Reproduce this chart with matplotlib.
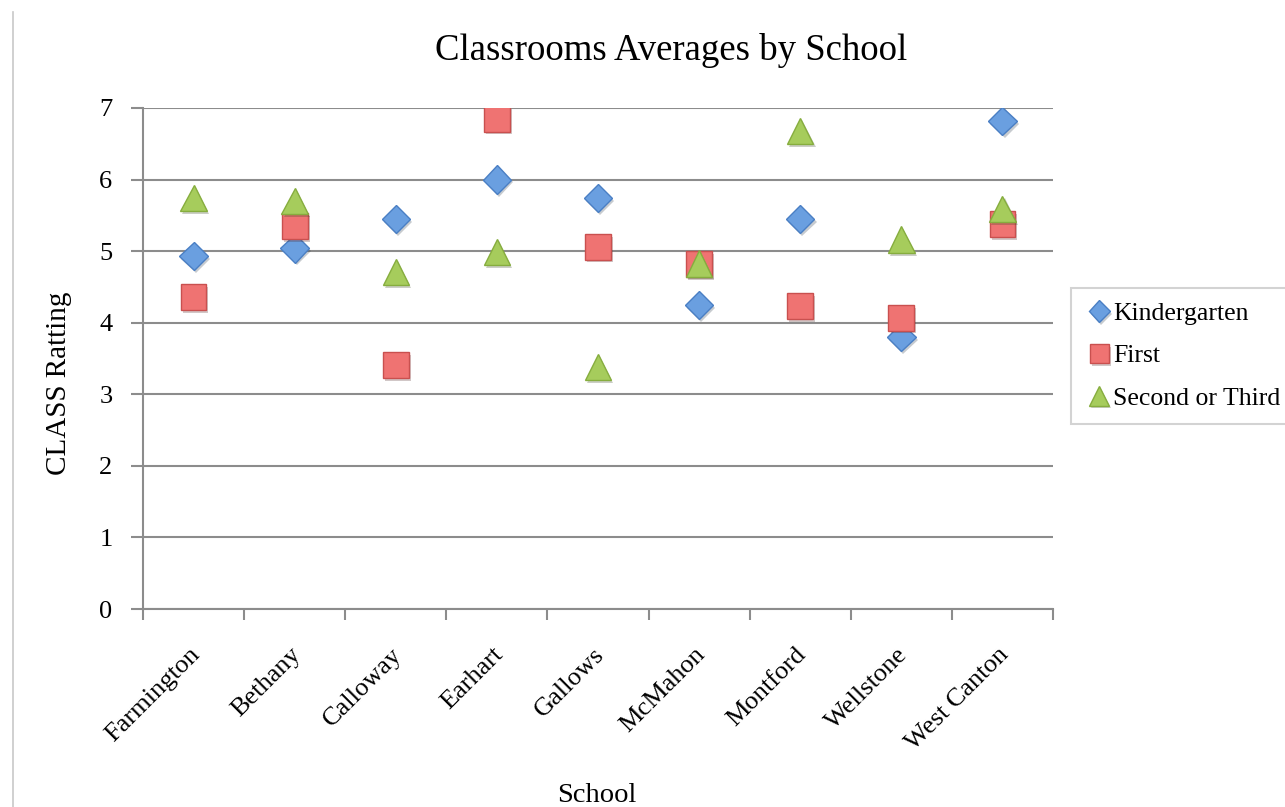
import matplotlib
matplotlib.use("Agg")
import matplotlib.pyplot as plt
import matplotlib.patheffects as pe
import matplotlib.transforms as mtransforms
from matplotlib.lines import Line2D
import numpy as np

schools = ["Farmington", "Bethany", "Calloway", "Earhart", "Gallows",
           "McMahon", "Montford", "Wellstone", "West Canton"]
kindergarten = [4.93, 5.04, 5.45, 6.00, 5.74, 4.25, 5.45, 3.80, 6.82]
first = [4.36, 5.35, 3.41, 6.85, 5.06, 4.82, 4.23, 4.07, 5.38]
second_third = [5.74, 5.70, 4.71, 4.99, 3.38, 4.83, 6.68, 5.16, 5.59]
y_ticks = [0, 1, 2, 3, 4, 5, 6, 7]

plt.rcParams['font.family'] = ['Liberation Serif', 'DejaVu Serif']

fig = plt.figure(figsize=(12.85, 8.07), dpi=100)
ax = fig.add_axes([143 / 1285, 1 - 609 / 807, (1053 - 143) / 1285, (609 - 108) / 807])

x = np.arange(len(schools))
shadow = [pe.SimplePatchShadow(offset=(1.5, -2), alpha=0.25), pe.Normal()]

series = [
    ("Kindergarten", kindergarten, "D", 14.5, "#6a9fe0", "#4a7fc4"),
    ("First", first, "s", 18.5, "#ef7372", "#c9504f"),
    ("Second or Third", second_third, "^", 19, "#a6cc5c", "#86ad3e"),
]
for label, vals, marker, ms, face, edge in series:
    ax.plot(x, vals, linestyle="none", marker=marker, markersize=ms,
            markerfacecolor=face, markeredgecolor=edge, markeredgewidth=1,
            label=label, path_effects=shadow, zorder=3)

ax.set_xlim(-0.5, len(schools) - 0.5)
ax.set_ylim(0, 7)
ax.set_yticks(y_ticks)
ax.yaxis.grid(True, color="#8c8c8c", linewidth=1.5)
ax.set_axisbelow(True)

# category boundary ticks, labels centred
ax.set_xticks(np.arange(len(schools) + 1) - 0.5)
ax.set_xticklabels([])
ax.set_xticks(x, minor=True)
ax.set_xticklabels(schools, minor=True, rotation=45, ha="right",
                   rotation_mode="anchor", fontsize=19)
ax.tick_params(axis="x", which="minor", length=0, pad=25)
offset = mtransforms.ScaledTranslation(-5 / 100, 0, fig.dpi_scale_trans)
for lbl in ax.get_xticklabels(minor=True):
    lbl.set_transform(lbl.get_transform() + offset)

ax.tick_params(axis="x", which="major", length=8, width=1.5, color="#8c8c8c")
ax.tick_params(axis="y", length=9, width=1.5, color="#8c8c8c", labelsize=19, pad=13)

for side in ["top", "right"]:
    ax.spines[side].set_visible(False)
for side in ["left", "bottom"]:
    ax.spines[side].set_color("#8c8c8c")
    ax.spines[side].set_linewidth(1.5)

ax.set_ylabel("CLASS Ratting", fontsize=21)
ax.yaxis.set_label_coords(-0.078, 0.45)
fig.text(597 / 1285, 1 - 795 / 807, "School", fontsize=20.5, ha="center", va="center")
fig.text(671 / 1285, 1 - 50 / 807, "Classrooms Averages by School", fontsize=26.5,
         ha="center", va="center")

leg = ax.legend(loc="upper left", bbox_to_anchor=(1071 / 1285, 1 - 288 / 807),
                bbox_transform=fig.transFigure, fontsize=18.5, frameon=True,
                fancybox=False, borderpad=0.55, handletextpad=0.0,
                labelspacing=0.75, handlelength=1.1, borderaxespad=0)
leg.get_frame().set_edgecolor("#c8c8c8")
leg.get_frame().set_linewidth(1.5)
for h in leg.legend_handles:
    h.set_markersize(h.get_markersize() * 0.75)

# thin frame line on the left edge of the slide
fig.add_artist(Line2D([12.5 / 1285, 12.5 / 1285], [0, 1 - 12 / 807],
                      transform=fig.transFigure, color="#c8c8c8", linewidth=1.2))

fig.savefig("out.png", dpi=100)
